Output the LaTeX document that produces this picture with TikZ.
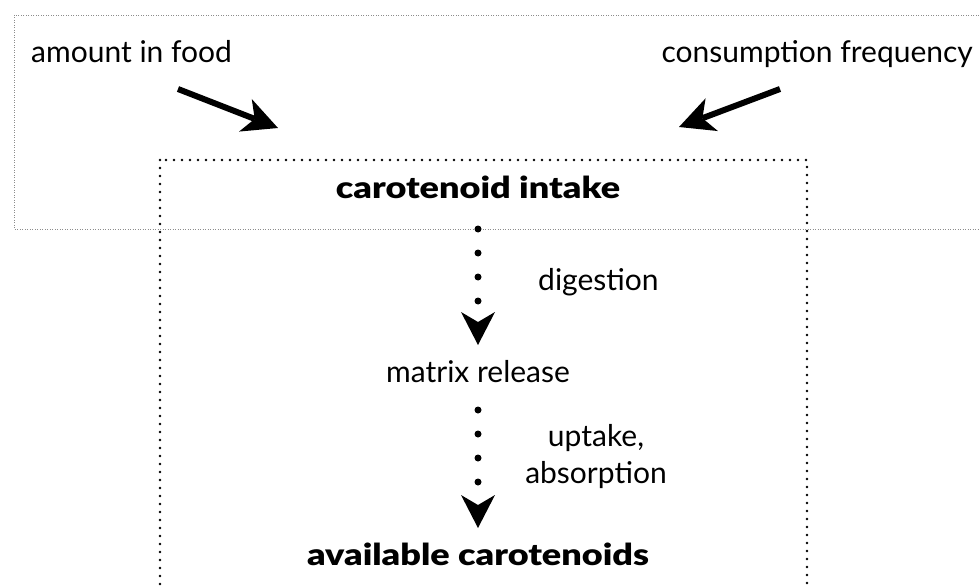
\documentclass[tikz,border=0pt]{standalone}
\usepackage{fontspec}
\setmainfont{Lato}
\newfontfamily\heavyfont{Lato Black}[FakeStretch=1.2]
\usetikzlibrary{arrows.meta}
\begin{document}
\begin{tikzpicture}[x=1pt,y=-1pt,
  txt/.style={inner sep=0pt,font=\fontsize{30}{36}\selectfont},
  head/.style={inner sep=0pt,font=\fontsize{30}{36}\heavyfont},
  outerframe/.style={draw=black!45,line width=0.9pt,dash pattern=on 0.9pt off 1.6pt},
  innerframe/.style={draw=black,line width=2.7pt,line cap=round,dash pattern=on 0pt off 8pt},
  bigarrow/.style={line width=6pt,-{Stealth[length=35pt,width=35pt,inset=10pt,line width=0pt]}},
  dotflow/.style={line width=7pt,line cap=round,dash pattern=on 0pt off 24pt,
    -{Stealth[length=33pt,width=34pt,inset=10pt,line width=0pt]}}]
\useasboundingbox (0,0) rectangle (979,588);
\clip (0,0) rectangle (979,588);

% frames
\draw[outerframe] (14,15) rectangle (1000,229);
\draw[innerframe] (160,160) rectangle (807,620);

% labels
\node[txt,anchor=base west] (amount) at (31,63) {amount in food};
\node[txt,anchor=base east] (freq) at (973,63) {consumption frequency};
\node[head,anchor=base] (intake) at (478,199) {carotenoid intake};
\node[txt,anchor=base] (release) at (478,382) {matrix release};
\node[head,anchor=base] (avail) at (478,565) {available carotenoids};
\node[txt,anchor=base west] (digest) at (538,290) {digestion};
\node[txt,align=center,font=\fontsize{30}{37}\selectfont] (uptake) at (596,457) {uptake,\\absorption};

% arrow ends
\coordinate (amountEnd) at (178,89);
\coordinate (intakeL) at (278,128);
\coordinate (freqEnd) at (780,89);
\coordinate (intakeR) at (679,127);
\coordinate (intakeS) at (478,229);
\coordinate (releaseN) at (478,345);
\coordinate (releaseS) at (478,410);
\coordinate (availN) at (478,528);

\draw[bigarrow] (amountEnd) -- (intakeL);
\draw[bigarrow] (freqEnd) -- (intakeR);
\draw[dotflow] (intakeS) -- (releaseN);
\draw[dotflow] (releaseS) -- (availN);
\end{tikzpicture}
\end{document}
